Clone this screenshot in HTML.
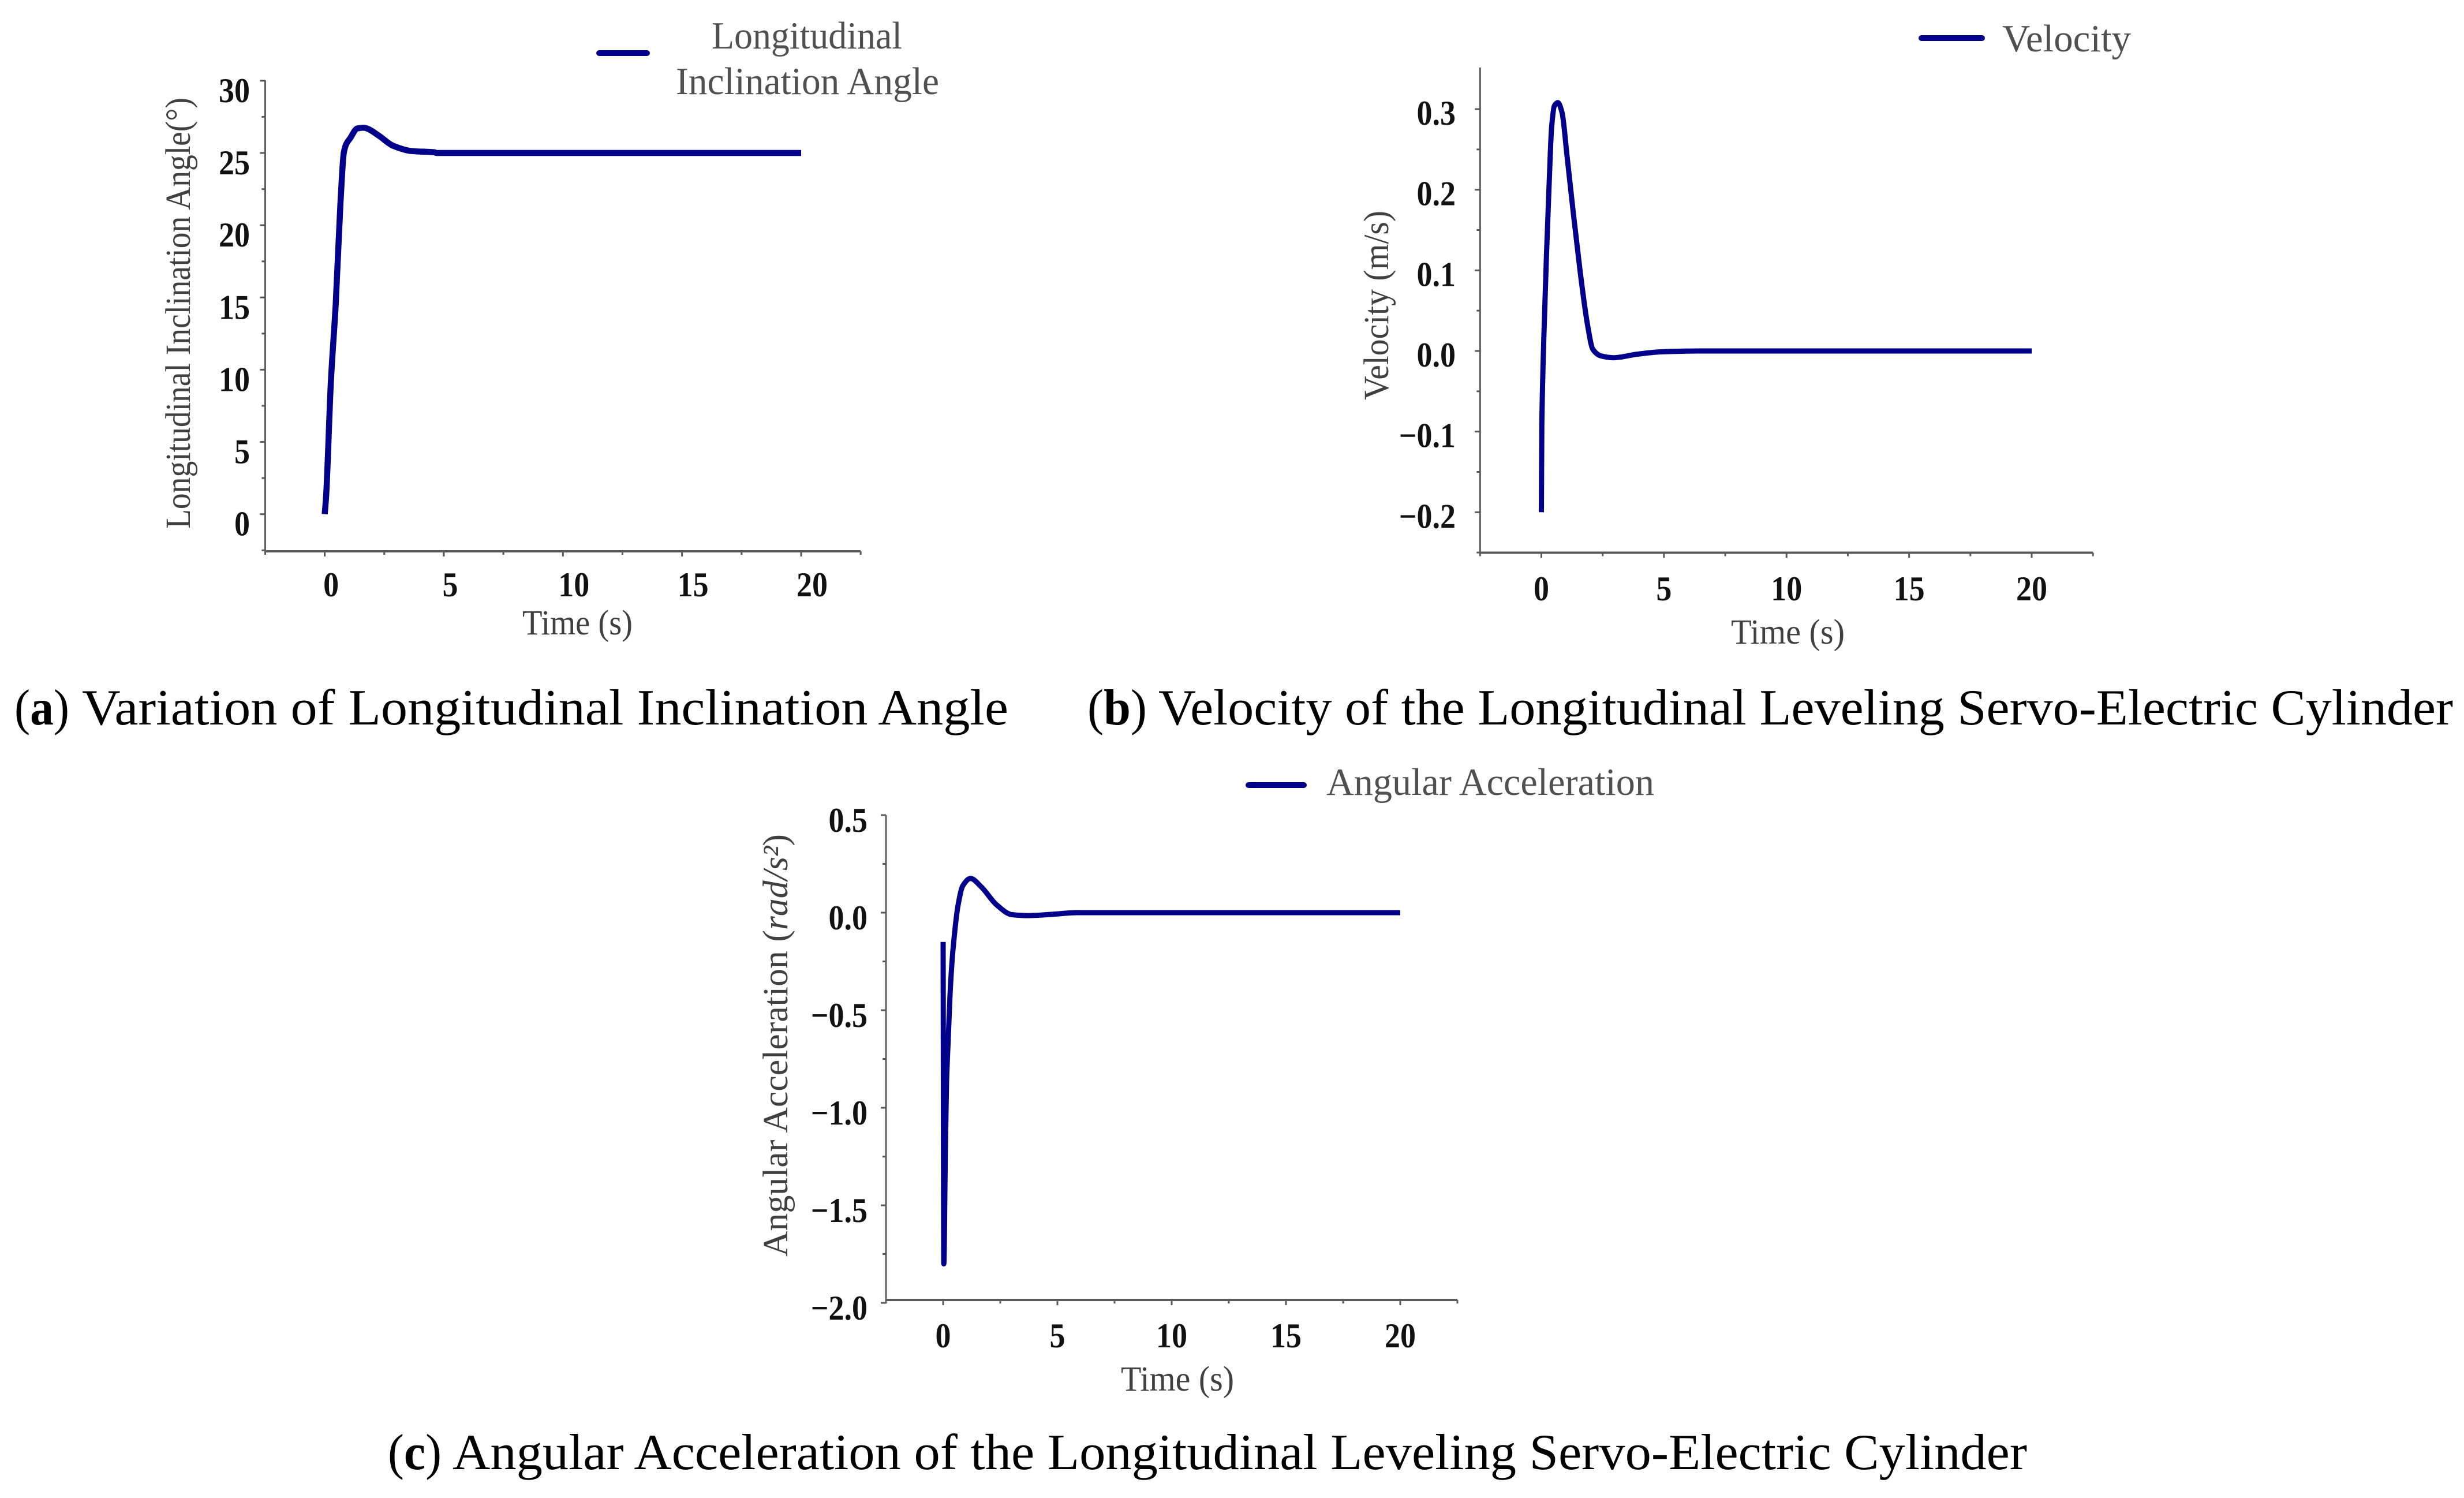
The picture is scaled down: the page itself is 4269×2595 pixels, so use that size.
<!DOCTYPE html>
<html lang="en">
<head>
<meta charset="utf-8">
<title>Longitudinal leveling servo-electric cylinder charts</title>
<style>
html,body{margin:0;padding:0;background:#fff;}
svg{display:block;}
text{font-family:"Liberation Serif",serif;}
.caption{font-size:88px;fill:#000;}
.axis-title{font-size:61px;fill:#404040;}
.legend-text{font-size:67px;fill:#505050;}
.tick-label{font-size:60px;font-weight:bold;fill:#111;}
</style>
</head>
<body>
<svg id="figure" xmlns="http://www.w3.org/2000/svg" width="4269" height="2595" viewBox="0 0 4269 2595">
  <rect x="0" y="0" width="4269" height="2595" fill="#fff"/>

  <g id="chart-a">
    <line x1="1038" y1="92" x2="1121" y2="92" stroke="#00008b" stroke-width="10" stroke-linecap="round"/>
    <text class="legend-text" x="1233" y="84" textLength="330" lengthAdjust="spacingAndGlyphs">Longitudinal</text>
    <text class="legend-text" x="1171" y="163" textLength="456" lengthAdjust="spacingAndGlyphs">Inclination Angle</text>
    <text class="axis-title" transform="translate(329,916) rotate(-90)" textLength="747" lengthAdjust="spacingAndGlyphs">Longitudinal Inclination Angle(°)</text>
    <text class="axis-title" x="905" y="1099" textLength="191" lengthAdjust="spacingAndGlyphs">Time (s)</text>
  </g>
  <text class="caption" x="25" y="1255" textLength="95" lengthAdjust="spacingAndGlyphs">(<tspan font-weight="bold">a</tspan>)</text>
  <text class="caption" x="142" y="1255" textLength="1605" lengthAdjust="spacingAndGlyphs">Variation of Longitudinal Inclination Angle</text>

  <g id="chart-b">
    <line x1="3329" y1="66" x2="3434" y2="66" stroke="#00008b" stroke-width="10" stroke-linecap="round"/>
    <text class="legend-text" x="3469" y="89" textLength="223" lengthAdjust="spacingAndGlyphs">Velocity</text>
    <text class="axis-title" transform="translate(2405,693) rotate(-90)" textLength="328" lengthAdjust="spacingAndGlyphs">Velocity (m/s)</text>
    <text class="axis-title" x="2999" y="1115" textLength="197" lengthAdjust="spacingAndGlyphs">Time (s)</text>
  </g>
  <text class="caption" x="1884" y="1255" textLength="103" lengthAdjust="spacingAndGlyphs">(<tspan font-weight="bold">b</tspan>)</text>
  <text class="caption" x="2007" y="1255" textLength="2243" lengthAdjust="spacingAndGlyphs">Velocity of the Longitudinal Leveling Servo-Electric Cylinder</text>

  <g id="chart-c">
    <line x1="2163" y1="1360" x2="2259" y2="1360" stroke="#00008b" stroke-width="10" stroke-linecap="round"/>
    <text class="legend-text" x="2298" y="1377" textLength="568" lengthAdjust="spacingAndGlyphs">Angular Acceleration</text>
    <text class="axis-title" transform="translate(1364,2177) rotate(-90)" textLength="732" lengthAdjust="spacingAndGlyphs">Angular Acceleration (<tspan font-style="italic">rad/s²</tspan>)</text>
    <text class="axis-title" x="1942" y="2409" textLength="196" lengthAdjust="spacingAndGlyphs">Time (s)</text>
  </g>
  <text class="caption" x="672" y="2545" textLength="93" lengthAdjust="spacingAndGlyphs">(<tspan font-weight="bold">c</tspan>)</text>
  <text class="caption" x="784" y="2545" textLength="2728" lengthAdjust="spacingAndGlyphs">Angular Acceleration of the Longitudinal Leveling Servo-Electric Cylinder</text>
</svg>

<script>
var xTickValues = [0, 5, 10, 15, 20];
var xMinorValues = [-2.5, 2.5, 7.5, 12.5, 17.5, 22.5];

var inclinationTicks = [0, 5, 10, 15, 20, 25, 30];
var inclinationTickLabels = ["0", "5", "10", "15", "20", "25", "30"];
var inclinationTime = [0, 0.06, 0.26, 0.46, 0.66, 0.8, 0.9, 1.06, 1.37, 1.63, 1.77, 2.27, 2.87, 3.66, 4.6, 4.7, 6, 10, 15, 20];
var inclinationAngle = [0, 1.3, 9.2, 14.5, 21.5, 25, 25.6, 26, 26.7, 26.75, 26.7, 26.2, 25.5, 25.13, 25.05, 25, 25, 25, 25, 25];

var velocityTicks = [-0.2, -0.1, 0, 0.1, 0.2, 0.3];
var velocityTickLabels = ["\u22120.2", "\u22120.1", "0.0", "0.1", "0.2", "0.3"];
var velocityTime = [0, 0.02, 0.1, 0.21, 0.32, 0.42, 0.53, 0.67, 0.84, 1.05, 1.26, 1.58, 1.89, 2.1, 2.42, 2.94, 3.9, 4.94, 6.4, 10, 15, 20];
var velocityValue = [-0.2, -0.09, 0.015, 0.12, 0.21, 0.278, 0.304, 0.308, 0.296, 0.241, 0.183, 0.099, 0.031, 0.002, -0.006, -0.0084, -0.004, -0.001, 0, 0, 0, 0];

var accelerationTicks = [-2, -1.5, -1, -0.5, 0, 0.5];
var accelerationTickLabels = ["\u22122.0", "\u22121.5", "\u22121.0", "\u22120.5", "0.0", "0.5"];
var accelerationTime = [0, 0.03, 0.1, 0.15, 0.23, 0.32, 0.447, 0.657, 0.87, 1.2, 1.67, 2.34, 3.0, 3.7, 4.73, 5.86, 10, 15, 20];
var accelerationValue = [-0.15, -1.8, -1.2, -0.87, -0.63, -0.38, -0.17, 0.04, 0.14, 0.175, 0.132, 0.04, -0.01, -0.015, -0.009, 0, 0, 0, 0];

var SVG_NS = "http://www.w3.org/2000/svg";

function linearScale(d0, d1, r0, r1) {
  return function (v) { return r0 + (v - d0) / (d1 - d0) * (r1 - r0); };
}

function makeEl(parent, tag, attrs) {
  var el = document.createElementNS(SVG_NS, tag);
  Object.keys(attrs).forEach(function (k) { el.setAttribute(k, attrs[k]); });
  parent.appendChild(el);
  return el;
}

function drawTick(parent, x1, y1, x2, y2, cfg) {
  var tick = makeEl(parent, "line", { x1: x1, y1: y1, x2: x2, y2: y2, stroke: cfg.axisColor, "stroke-width": 3 });
  
  
}

/* Monotone cubic path through the data points: smooth without overshoot. */
function smoothPath(px, py) {
  var n = px.length, dx = [], m = [], s = [], i;
  for (i = 0; i < n - 1; i++) {
    dx[i] = Math.max(px[i + 1] - px[i], 1e-6);
    s[i] = (py[i + 1] - py[i]) / dx[i];
  }
  m[0] = s[0];
  m[n - 1] = s[n - 2];
  for (i = 1; i < n - 1; i++) {
    m[i] = s[i - 1] * s[i] <= 0 ? 0 : 2 * s[i - 1] * s[i] / (s[i - 1] + s[i]);
  }
  var d = "M" + px[0].toFixed(1) + "," + py[0].toFixed(1);
  for (i = 0; i < n - 1; i++) {
    var h = dx[i] / 3;
    d += "C" + (px[i] + h).toFixed(1) + "," + (py[i] + m[i] * h).toFixed(1) + " " +
      (px[i + 1] - h).toFixed(1) + "," + (py[i + 1] - m[i + 1] * h).toFixed(1) + " " +
      px[i + 1].toFixed(1) + "," + py[i + 1].toFixed(1);
  }
  return d;
}

function drawChart(cfg) {
  var g = document.getElementById(cfg.id);
  var sx = linearScale(0, 20, cfg.x0, cfg.x20);
  var sy = linearScale(cfg.yRef0, cfg.yRef1, cfg.yPx0, cfg.yPx1);
  var left = sx(-2.5), right = sx(22.5);
  var bottom = cfg.bottom, top = cfg.top;

  var yAxis = makeEl(g, "line", { x1: left, y1: top, x2: left, y2: bottom, stroke: cfg.axisColor, "stroke-width": 3 });
  
  

  var xAxis = makeEl(g, "line", { x1: left, y1: bottom, x2: right, y2: bottom, stroke: cfg.axisColor, "stroke-width": 4 });
  
  

  xTickValues.forEach(function (v) {
    drawTick(g, sx(v), bottom, sx(v), bottom + 9, cfg);
    var label = String(v);
    var t = makeEl(g, "text", {
      transform: "translate(" + (sx(v) + cfg.xLabelDx(label)) + "," + cfg.xLabelY + ") scale(0.9,1)",
      "text-anchor": "middle", "class": "tick-label"
    });
    
    
    t.textContent = label;
  });
  xMinorValues.forEach(function (v) {
    drawTick(g, sx(v), bottom, sx(v), bottom + 6, cfg);
  });

  cfg.yTicks.forEach(function (v, i) {
    drawTick(g, left - 9, sy(v), left, sy(v), cfg);
    if (i + 1 < cfg.yTicks.length) {
      var mid = (v + cfg.yTicks[i + 1]) / 2;
      drawTick(g, left - 6, sy(mid), left, sy(mid), cfg);
    }
    var lab = makeEl(g, "text", {
      transform: "translate(" + cfg.yLabelRight + "," + (sy(v) + cfg.yLabelDy) + ") scale(0.9,1)",
      "text-anchor": "end", "class": "tick-label"
    });
    
    
    lab.textContent = cfg.yLabels[i];
  });
  var lowMinor = cfg.yTicks[0] - (cfg.yTicks[1] - cfg.yTicks[0]) / 2;
  if (sy(lowMinor) <= bottom + 8) { drawTick(g, left - 6, sy(lowMinor), left, sy(lowMinor), cfg); }

  var series = makeEl(g, "path", {
    d: smoothPath(cfg.xs.map(sx), cfg.ys.map(sy)),
    fill: "none", stroke: "#00008b", "stroke-width": cfg.lineWidth, "stroke-linejoin": "round"
  });
  
  
}

drawChart({
  id: "chart-a", seriesName: "inclination-angle-line",
  xs: inclinationTime, ys: inclinationAngle,
  yTicks: inclinationTicks, yLabels: inclinationTickLabels,
  x0: 562.6, x20: 1388, yRef0: 0, yRef1: 25, yPx0: 890.7, yPx1: 265,
  top: 139, bottom: 955, yLabelRight: 433, yLabelDy: 37, xLabelY: 1033,
  xLabelDx: function (s) { return s.length > 1 ? 19 : 11; },
  axisColor: "#5a5a5a", lineWidth: 10.5
});

drawChart({
  id: "chart-b", seriesName: "velocity-line",
  xs: velocityTime, ys: velocityValue,
  yTicks: velocityTicks, yLabels: velocityTickLabels,
  x0: 2670.5, x20: 3520, yRef0: 0, yRef1: 0.3, yPx0: 608, yPx1: 189,
  top: 117, bottom: 957.5, yLabelRight: 2522, yLabelDy: 27, xLabelY: 1040,
  xLabelDx: function () { return 0; },
  axisColor: "#5a5a5a", lineWidth: 9
});

drawChart({
  id: "chart-c", seriesName: "angular-acceleration-line",
  xs: accelerationTime, ys: accelerationValue,
  yTicks: accelerationTicks, yLabels: accelerationTickLabels,
  x0: 1634, x20: 2426, yRef0: 0, yRef1: 0.5, yPx0: 1581, yPx1: 1412,
  top: 1412, bottom: 2252, yLabelRight: 1503, yLabelDy: 29, xLabelY: 2334,
  xLabelDx: function () { return 0; },
  axisColor: "#5a5a5a", lineWidth: 9
});
</script>
</body>
</html>
